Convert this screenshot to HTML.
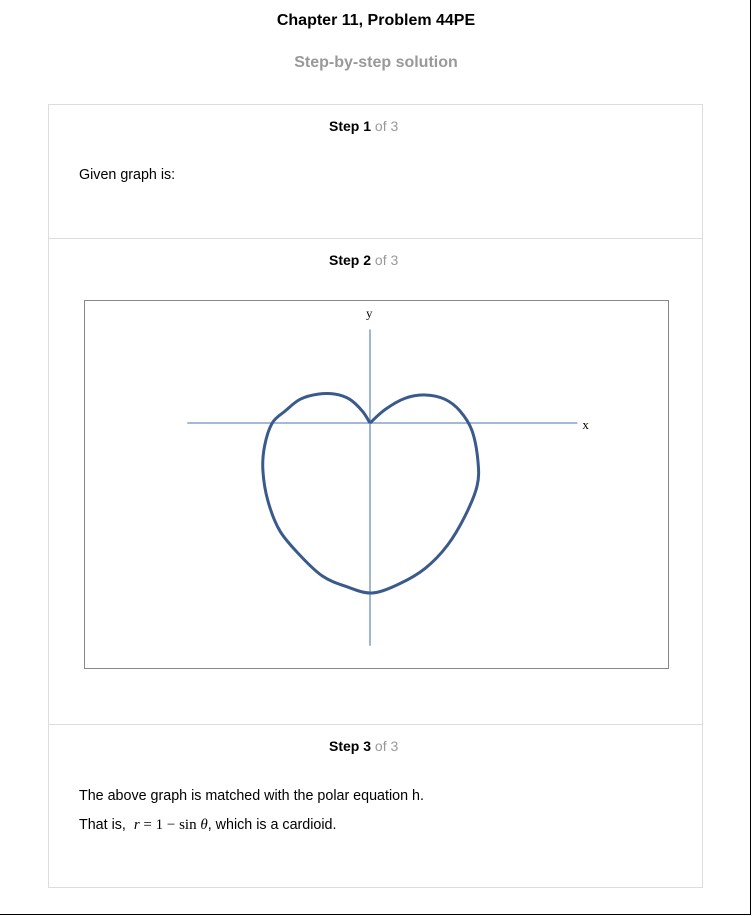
<!DOCTYPE html>
<html><head><meta charset="utf-8"><style>
body{margin:0;width:752px;height:916px;background:#fff;font-family:"Liberation Sans",Arial,sans-serif;position:relative;overflow:hidden}
.abs{position:absolute}
.t{font-size:14.3px;color:#000}
.st{font-size:14px;color:#000;white-space:nowrap}
</style></head><body>
<div class="abs" style="left:0;top:0;width:750px;height:914px;border-right:1px solid #000;border-bottom:1px solid #000"></div>
<div class="abs" style="left:0;width:752px;top:12px;text-align:center;font-weight:bold;font-size:16px">Chapter 11, Problem 44PE</div>
<div class="abs" style="left:0;width:752px;top:54px;text-align:center;font-weight:bold;font-size:16px;color:#999">Step-by-step solution</div>
<div class="abs" style="left:48px;top:104px;width:653px;height:782px;border:1px solid #ddd"></div>
<div class="abs" style="left:49px;top:238px;width:653px;height:1px;background:#ddd"></div>
<div class="abs" style="left:49px;top:724px;width:653px;height:1px;background:#ddd"></div>
<div class="abs st" style="left:329px;top:118px"><b>Step 1</b> <span style="color:#999">of 3</span></div>
<div class="abs t" style="left:79px;top:167px">Given graph is:</div>
<div class="abs st" style="left:329px;top:252px"><b>Step 2</b> <span style="color:#999">of 3</span></div>
<div class="abs st" style="left:329px;top:738px"><b>Step 3</b> <span style="color:#999">of 3</span></div>
<div class="abs t" style="left:79px;top:788px">The above graph is matched with the polar equation h.</div>
<div class="abs t" style="left:79px;top:817px">That is, &nbsp;<span style="font-family:'Liberation Serif',serif;font-size:15px"><i>r</i> = 1 − sin <i>θ</i></span>, which is a cardioid.</div>
<svg class="abs" style="left:0;top:0" width="752" height="916">
<rect x="84.5" y="300.5" width="584" height="368" fill="#fff" stroke="#888"/>
<g id="g"></g>
</svg>
<script>
const curveX=[0,-0.09,-0.24,-0.41,-0.61,-0.82,-1.00,-1.15,-1.24,-1.26,-1.20,-1.06,-0.82,-0.56,-0.29,0.02,0.35,0.65,0.91,1.12,1.26,1.27,1.20,1.06,0.88,0.65,0.41,0.18,0];
const curveY=[0,0.14,0.28,0.34,0.34,0.28,0.14,0,-0.27,-0.56,-0.92,-1.27,-1.56,-1.80,-1.92,-2.0,-1.89,-1.71,-1.44,-1.09,-0.74,-0.45,-0.09,0.14,0.28,0.33,0.29,0.16,0];
const xRange=[-2.15,2.44];
const yRange=[-2.62,1.1];
const ox=370,oy=423,s=85;
const sx=v=>ox+v*s, sy=v=>oy-v*s;
const g=document.getElementById('g');
const NS='http://www.w3.org/2000/svg';
function mk(t,a){const e=document.createElementNS(NS,t);for(const k in a)e.setAttribute(k,a[k]);g.appendChild(e);return e;}
const xa=mk('line',{x1:sx(xRange[0]),y1:oy,x2:sx(xRange[1]),y2:oy,stroke:'#6d8fc0','stroke-width':1.3});


const ya=mk('line',{x1:ox,y1:sy(yRange[1]),x2:ox,y2:sy(yRange[0]),stroke:'#6d8fc0','stroke-width':1.3});


const P=curveX.map((x,i)=>[sx(x),sy(curveY[i])]);
let d='M'+P[0][0]+','+P[0][1];
for(let i=0;i<P.length-1;i++){const p0=P[Math.max(0,i-1)],p1=P[i],p2=P[i+1],p3=P[Math.min(P.length-1,i+2)];
d+=` C${p1[0]+(p2[0]-p0[0])/6},${p1[1]+(p2[1]-p0[1])/6} ${p2[0]-(p3[0]-p1[0])/6},${p2[1]-(p3[1]-p1[1])/6} ${p2[0]},${p2[1]}`;}
const c=mk('path',{d:d,fill:'none',stroke:'#3a5a8c','stroke-width':3,'stroke-linejoin':'round'});


const lx=mk('text',{x:sx(xRange[1])+5,y:oy+6,'font-family':'Liberation Serif,serif','font-size':13});
lx.textContent='x';


const ly=mk('text',{x:ox-4,y:sy(yRange[1])-12,'font-family':'Liberation Serif,serif','font-size':13});
ly.textContent='y';


</script>
</body></html>
